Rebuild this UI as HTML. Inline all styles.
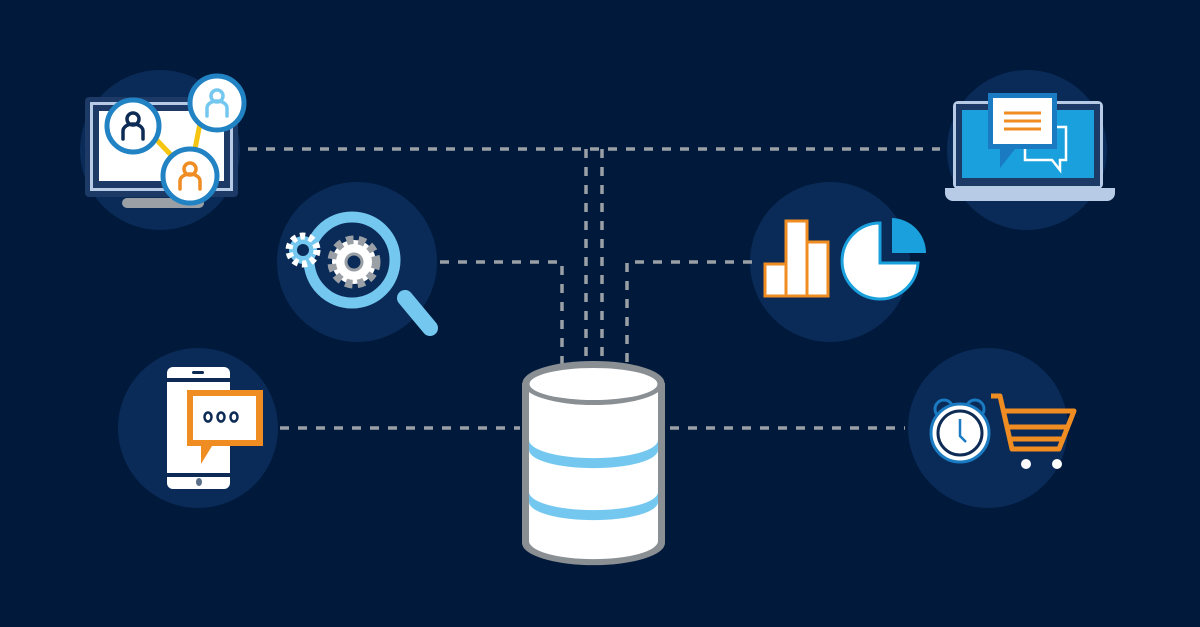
<!DOCTYPE html>
<html><head><style>html,body{margin:0;padding:0;background:#01193a;}svg{display:block}</style></head>
<body>
<svg width="1200" height="627" viewBox="0 0 1200 627" xmlns="http://www.w3.org/2000/svg">
<rect width="1200" height="627" fill="#01193a"/>
<g fill="#0a2b58">
<circle cx="160" cy="150" r="80"/>
<circle cx="357" cy="262" r="80"/>
<circle cx="198" cy="428" r="80"/>
<circle cx="1027" cy="150" r="80"/>
<circle cx="830" cy="262" r="80"/>
<circle cx="988" cy="428" r="80"/>
</g>
<g stroke="#9aa0a6" stroke-width="3.5" fill="none" stroke-dasharray="9,9">
<path d="M248 149 H940"/>
<path d="M586 149 V365"/>
<path d="M602 149 V365"/>
<path d="M440 262 H562 V365"/>
<path d="M752 262 H627 V365"/>
<path d="M280 428 H520"/>
<path d="M670 428 H905"/>
</g>
<g>
<path d="M522 383 V543 A71 22 0 0 0 665 543 V383 Z" fill="#8a8f93"/>
<path d="M529 385 V541 A64 18 0 0 0 658 541 V385 Z" fill="#fff"/>
<path d="M529 440 A64 18 0 0 0 658 440 V450 A64 18 0 0 1 529 450 Z" fill="#74c8f0"/>
<path d="M529 492 A64 18 0 0 0 658 492 V502 A64 18 0 0 1 529 502 Z" fill="#74c8f0"/>
<ellipse cx="593.5" cy="383" rx="71" ry="22" fill="#8a8f93"/>
<ellipse cx="593.5" cy="384" rx="64" ry="16" fill="#fff"/>
</g>
<rect x="85" y="97" width="153" height="100" rx="4" fill="#1d3a66"/>
<rect x="90" y="102" width="143" height="89" fill="#b8cbe6"/>
<rect x="93" y="105" width="137" height="83" fill="#1d3a66"/>
<rect x="99" y="111" width="125" height="70" fill="#fff"/>
<rect x="122" y="198" width="82" height="10" rx="5" fill="#9aa0a6"/>
<path d="M152 135 L190 175 L202 113" stroke="#f6c512" stroke-width="5" fill="none"/>
<g stroke="#2182c4" stroke-width="5" fill="#fff">
<circle cx="133" cy="126" r="26"/>
<circle cx="217" cy="103" r="27"/>
<circle cx="190" cy="176" r="27"/>
</g>
<g fill="none" stroke-width="3.5" stroke-linecap="round">
<g stroke="#0d2b55"><circle cx="133" cy="119" r="6"/><path d="M123 139 V131 a10 7 0 0 1 20 0 V139"/></g>
<g stroke="#74c8f0"><circle cx="217" cy="96" r="6"/><path d="M207 116 V108 a10 7 0 0 1 20 0 V116"/></g>
<g stroke="#ef8c22"><circle cx="190" cy="169" r="6"/><path d="M180 189 V181 a10 7 0 0 1 20 0 V189"/></g>
</g>
<!-- magnifier -->
<line x1="405" y1="298" x2="430" y2="328" stroke="#74c8f0" stroke-width="16" stroke-linecap="round"/>
<circle cx="352" cy="260" r="43" fill="#0a2b58" stroke="#74c8f0" stroke-width="11"/>
<circle cx="354" cy="262" r="22" fill="#fff" stroke="#9aa0a6" stroke-width="9" stroke-dasharray="7,5"/>
<circle cx="354" cy="262" r="18" fill="#fff"/>
<circle cx="354" cy="262" r="8" fill="#0a2b58" stroke="#9aa0a6" stroke-width="3"/>
<circle cx="303" cy="250" r="14" fill="#74c8f0" stroke="#fff" stroke-width="7" stroke-dasharray="5,4"/>
<circle cx="303" cy="250" r="6" fill="#0a2b58"/>
<!-- phone -->
<rect x="167" y="367" width="63" height="122" rx="6" fill="#fff"/>
<rect x="167" y="378" width="63" height="4" fill="#0d2b55"/>
<rect x="167" y="473" width="63" height="4" fill="#0d2b55"/>
<rect x="192" y="371" width="12" height="3" rx="1.5" fill="#0d2b55"/>
<ellipse cx="199" cy="482" rx="3" ry="4" fill="#5b6f8a"/>
<path d="M187 390 H263 V446 H212 L201 464 V446 H187 Z" fill="#ef8c22"/>
<rect x="193" y="396" width="63" height="44" fill="#fff"/>
<g fill="none" stroke="#0d2b55" stroke-width="2.5"><ellipse cx="208" cy="417" rx="3.5" ry="4.5"/><ellipse cx="221" cy="417" rx="3.5" ry="4.5"/><ellipse cx="234" cy="417" rx="3.5" ry="4.5"/></g>
<!-- laptop -->
<rect x="953" y="101" width="150" height="88" rx="5" fill="#b8cbe6"/>
<rect x="956" y="104" width="144" height="82" fill="#1d3a66"/>
<rect x="962" y="110" width="132" height="68" fill="#1aa0dc"/>
<path d="M945 188 H1115 V193 a8 8 0 0 1 -8 8 H953 a8 8 0 0 1 -8 -8 Z" fill="#b8cbe6"/>
<path d="M1025 127 H1066 V160 H1060 V170 L1052 160 H1025 Z" fill="none" stroke="#fff" stroke-width="2.5"/>
<path d="M988 93 H1057 V149 H1015 L1000 168 V149 H988 Z" fill="#1a7ac2"/>
<rect x="993" y="98" width="59" height="46" fill="#fff"/>
<g stroke="#ef8c22" stroke-width="3"><line x1="1004" y1="113" x2="1041" y2="113"/><line x1="1004" y1="121" x2="1041" y2="121"/><line x1="1004" y1="129" x2="1041" y2="129"/></g>
<!-- charts -->
<g fill="#fff" stroke="#ef8c22" stroke-width="3">
<rect x="765" y="264" width="21" height="32"/>
<rect x="786" y="221" width="21" height="75"/>
<rect x="807" y="242" width="21" height="54"/>
</g>
<path d="M880 223 A38 38 0 1 0 918 263 L880 263 Z" fill="#fff" stroke="#1aa0dc" stroke-width="3"/>
<path d="M892 218 A35 35 0 0 1 926 253 L892 253 Z" fill="#1aa0dc"/>
<!-- clock -->
<circle cx="944" cy="409" r="9" fill="none" stroke="#1a7ac2" stroke-width="3"/>
<circle cx="975" cy="409" r="9" fill="none" stroke="#1a7ac2" stroke-width="3"/>
<circle cx="960" cy="433" r="29" fill="#fff" stroke="#1a7ac2" stroke-width="3"/>
<circle cx="960" cy="433" r="22" fill="#fff" stroke="#0d2b55" stroke-width="3"/>
<path d="M960 419 V436 L966 442" stroke="#1a7ac2" stroke-width="2.5" fill="none"/>
<!-- cart -->
<g stroke="#ef8c22" stroke-width="5" fill="none" stroke-linejoin="round">
<path d="M991 396 H1000 L1012 449 H1059 L1074 411 H1005"/>
<path d="M1008 427 H1066"/>
<path d="M1011 439 H1061"/>
</g>
<circle cx="1026" cy="464" r="5" fill="#fff"/>
<circle cx="1057" cy="464" r="5" fill="#fff"/>
</svg>
</body></html>
